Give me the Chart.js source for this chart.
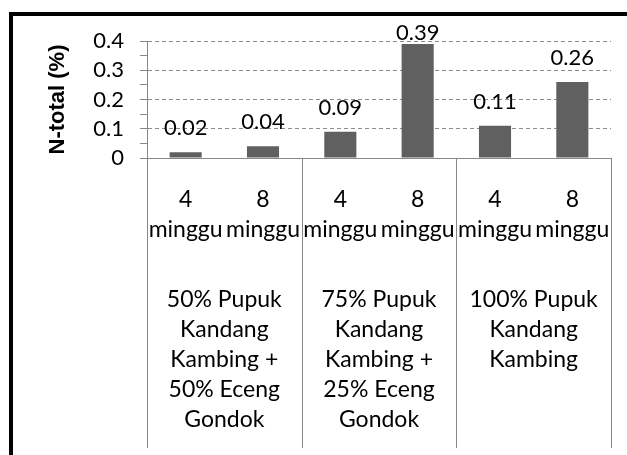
<!DOCTYPE html>
<html>
<head>
<meta charset="utf-8">
<script src="https://cdn.jsdelivr.net/npm/chart.js"></script>
<style>
    body { margin: 0; background: #fff; overflow: hidden; }
    #wrap { position: relative; width: 627px; height: 455px; }
    #frame { position: absolute; left: 9px; top: 12px; width: 700px; height: 500px;
        border-top: 4px solid #000; border-left: 4px solid #000; }
    canvas { position: absolute; left: 0; top: 0; }
</style>
</head>
<body>
<div id="wrap">
    <div id="frame"></div>
    <canvas id="chart" width="627" height="455"></canvas>
</div>
<script>
let weekLabels = [["4", "minggu"], ["8", "minggu"], ["4", "minggu"], ["8", "minggu"], ["4", "minggu"], ["8", "minggu"]]
let groupLabels = [
    ["50% Pupuk", "Kandang", "Kambing +", "50% Eceng", "Gondok"],
    ["75% Pupuk", "Kandang", "Kambing +", "25% Eceng", "Gondok"],
    ["100% Pupuk", "Kandang", "Kambing"]
]
let nTotal = [0.02, 0.04, 0.09, 0.39, 0.11, 0.26]
let yTicks = [0, 0.1, 0.2, 0.3, 0.4]

const FONT = "Lato"
const AXIS_GRAY = "#878787"

// value labels above each bar
const valueLabels = {
    id: "valueLabels",
    afterDatasetsDraw(chart) {
        let ctx = chart.ctx
        let area = chart.chartArea
        ctx.save()
        ctx.font = `22px ${FONT}`
        ctx.fillStyle = "#000"
        ctx.textAlign = "center"
        ctx.textBaseline = "middle"
        chart.getDatasetMeta(0).data.forEach((bar, i) => {
            let y = Math.max(bar.y - 24, area.top - 8)
            ctx.fillText(nTotal[i].toFixed(2), bar.x, y)
        })
        ctx.restore()
    }
}

// vertical separators between the groups, down through the label area
const groupLines = {
    id: "groupLines",
    afterDraw(chart) {
        let x = chart.scales.x
        let x2 = chart.scales.x2
        let ctx = chart.ctx
        let bottom = x2.bottom - 7
        ctx.save()
        ctx.strokeStyle = AXIS_GRAY
        ctx.lineWidth = 1
        for (let g = 0; g <= groupLabels.length; g++) {
            let px = Math.round(x.getPixelForValue(g * 2 - 0.5)) + 0.5
            ctx.beginPath()
            ctx.moveTo(px, chart.chartArea.bottom)
            ctx.lineTo(px, bottom)
            ctx.stroke()
        }
        ctx.restore()
    }
}

function fixHeight(h) {
    return (scale) => {
        scale.height = h
        scale.paddingLeft = 0
        scale.paddingRight = 0
    }
}

new Chart(document.getElementById("chart").getContext("2d"), {
    type: "bar",
    data: {
        labels: weekLabels,
        datasets: [{
            data: nTotal,
            backgroundColor: "#606060",
            borderWidth: 0,
            barPercentage: 0.83,
            categoryPercentage: 0.5
        }]
    },
    options: {
        animation: false,
        responsive: false,
        layout: {padding: {left: 14, top: 41, right: 16, bottom: 0}},
        plugins: {
            legend: {display: false},
            tooltip: {enabled: false}
        },
        scales: {
            x: {
                type: "category",
                offset: true,
                grid: {display: false},
                border: {display: true, color: AXIS_GRAY, width: 1},
                ticks: {
                    color: "#000",
                    font: {family: FONT, size: 23, lineHeight: "30px"},
                    padding: 19,
                    maxRotation: 0,
                    autoSkip: false
                },
                afterFit: fixHeight(86)
            },
            x2: {
                type: "category",
                position: "bottom",
                labels: groupLabels,
                offset: true,
                grid: {display: false},
                border: {display: false},
                ticks: {
                    color: "#000",
                    font: {family: FONT, size: 23, lineHeight: "30px"},
                    padding: 33,
                    maxRotation: 0,
                    autoSkip: false
                },
                afterFit: fixHeight(211)
            },
            y: {
                min: 0,
                max: 0.4,
                ticks: {
                    stepSize: 0.05,
                    autoSkip: false,
                    color: "#000",
                    font: {family: FONT, size: 22},
                    padding: 16,
                    callback: (v) => {
                        let t = yTicks.find(t => Math.abs(t - v) < 1e-6)
                        return t === undefined ? "" : String(t)
                    }
                },
                grid: {
                    color: (c) => {
                        let v = c.tick ? c.tick.value : 0
                        let major = yTicks.some(t => t > 0 && Math.abs(t - v) < 1e-6)
                        return major ? "#8c8c8c" : "rgba(0,0,0,0)"
                    },
                    tickColor: AXIS_GRAY,
                    tickLength: 7,
                    tickBorderDash: []
                },
                border: {display: true, color: AXIS_GRAY, width: 1, dash: [4, 3]},
                title: {
                    display: true,
                    text: "N-total (%)",
                    color: "#000",
                    font: {family: "Liberation Sans", size: 22, weight: "bold"},
                    padding: {top: 31, bottom: 0}
                },
                afterFit: (scale) => { scale.width = 133 }
            }
        }
    },
    plugins: [valueLabels, groupLines]
})
</script>
</body>
</html>
